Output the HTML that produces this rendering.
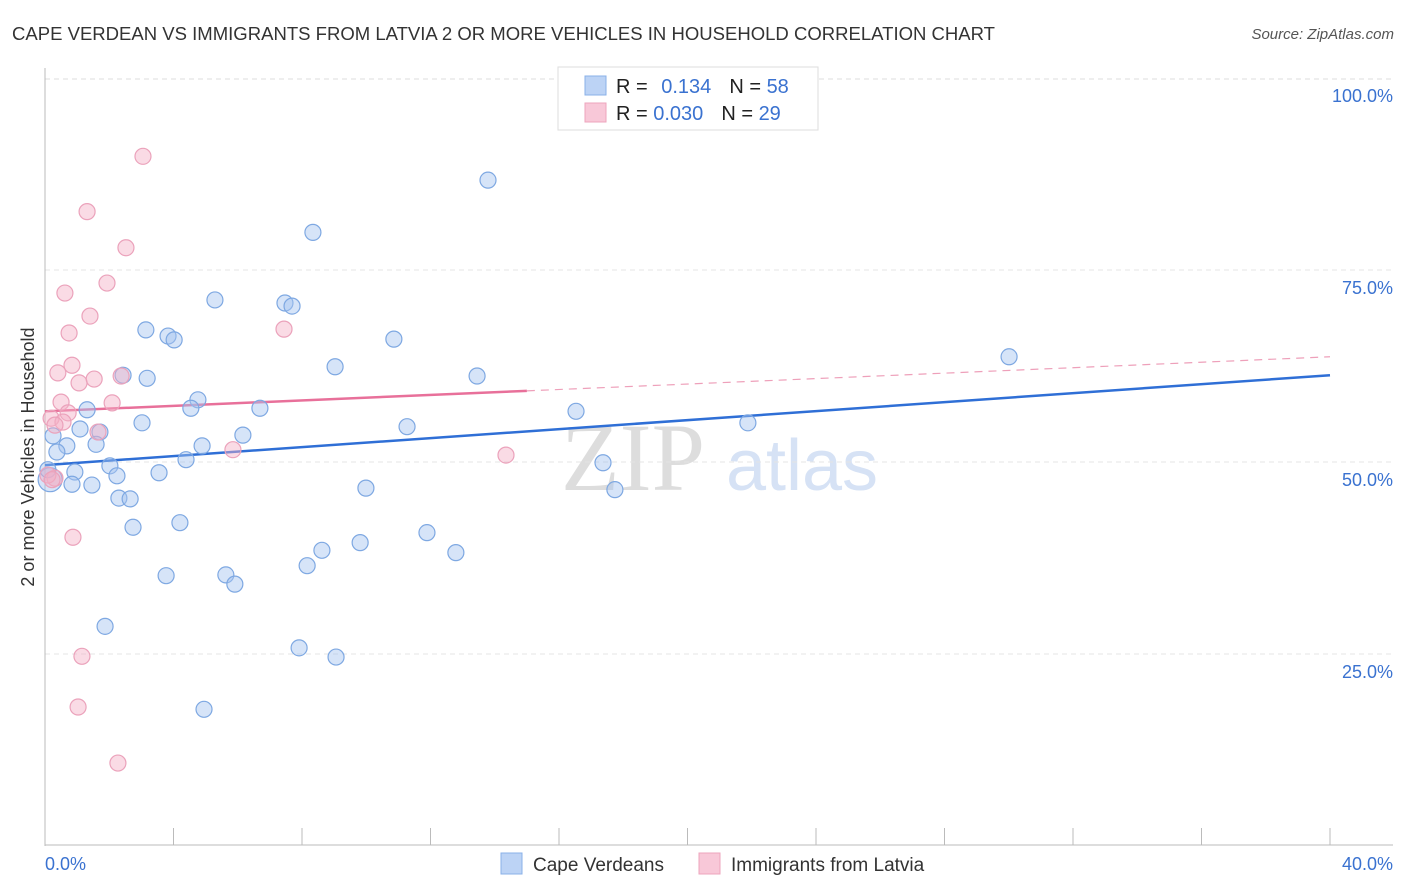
<!DOCTYPE html>
<html><head><meta charset="utf-8"><style>
body{margin:0;width:1406px;height:892px;background:#fff;font-family:"Liberation Sans",sans-serif;overflow:hidden}
svg{position:absolute;left:0;top:0}
</style></head><body>
<svg id="chart" width="1406" height="892">
<text x="12" y="40" font-size="18" fill="#333" textLength="983" lengthAdjust="spacingAndGlyphs">CAPE VERDEAN VS IMMIGRANTS FROM LATVIA 2 OR MORE VEHICLES IN HOUSEHOLD CORRELATION CHART</text>
<text x="1394" y="39" font-size="15" fill="#555" font-style="italic" text-anchor="end">Source: ZipAtlas.com</text>
<text transform="translate(34,457) rotate(-90)" font-size="18" fill="#333" text-anchor="middle">2 or more Vehicles in Household</text>
<g>
<text x="633" y="490" font-size="96" fill="#ddd" font-family="Liberation Serif,serif" text-anchor="middle">ZIP</text>
<text x="802" y="490" font-size="72" fill="#d6e2f5" text-anchor="middle">atlas</text>
</g>
<g id="grid"></g><g id="axes"></g><g id="lines"></g><g id="pts"></g>
<g>
<rect x="558" y="67" width="260" height="63" fill="#fff" stroke="#ddd"/>
<rect x="585" y="76" width="21" height="19" fill="#bcd3f5" stroke="#8ab0e8"/>
<rect x="585" y="103" width="21" height="19" fill="#f8c8d8" stroke="#eea5bd"/>
<text x="616" y="93" font-size="20" fill="#222">R = <tspan fill="#3a72d0" dx="8">0.134</tspan><tspan fill="#222" dx="18">N = </tspan><tspan fill="#3a72d0">58</tspan></text>
<text x="616" y="120" font-size="20" fill="#222">R = <tspan fill="#3a72d0">0.030</tspan><tspan fill="#222" dx="18">N = </tspan><tspan fill="#3a72d0">29</tspan></text>
</g>
<g>
<rect x="501" y="853" width="21" height="21" fill="#bcd3f5" stroke="#8ab0e8"/>
<text x="533" y="871" font-size="19" fill="#333">Cape Verdeans</text>
<rect x="699" y="853" width="21" height="21" fill="#f8c8d8" stroke="#eea5bd"/>
<text x="731" y="871" font-size="19" fill="#333">Immigrants from Latvia</text>
</g>
</svg>
<script>
const yTicks=[25,50,75,100];
const yTickLabels=["25.0%","50.0%","75.0%","100.0%"];
const blueX=[13.79,8.34,5.29,7.47,7.69,3.14,3.83,4.02,10.86,9.03,13.45,2.43,3.18,4.76,4.54,6.69,1.31,3.02,1.09,1.71,11.27,16.53,21.88,30.01,6.16,4.89,1.59,0.68,0.37,0.25,4.39,2.02,3.55,0.93,2.24,17.37,17.74,9.99,1.46,0.84,2.30,2.65,4.20,2.74,11.89,9.81,12.79,8.62,8.16,3.77,5.63,5.91,1.87,7.91,9.06,4.95,0.16,0.09];
const blueY=[86.7,79.9,71.1,70.7,70.3,67.2,66.4,65.9,66.0,62.4,61.2,61.3,60.9,58.1,57.0,57.0,56.8,55.1,54.3,53.9,54.6,56.6,55.1,63.7,53.5,52.1,52.3,52.1,51.3,53.4,50.3,49.5,48.6,48.7,48.2,49.9,46.4,46.6,47.0,47.1,45.3,45.2,42.1,41.5,40.8,39.5,38.2,38.5,36.5,35.2,35.3,34.1,28.6,25.8,24.6,17.8,47.7,49.0];
const pinkX=[3.05,1.31,2.52,1.93,0.62,1.40,0.75,7.44,0.84,0.40,1.53,1.06,2.37,0.50,2.09,0.72,0.19,0.56,0.31,1.65,5.85,14.35,0.31,0.87,1.15,1.03,2.27,0.09,0.22];
const pinkY=[89.8,82.6,77.9,73.3,72.0,69.0,66.8,67.3,62.6,61.6,60.8,60.3,61.2,57.8,57.7,56.4,55.7,55.2,54.8,53.9,51.6,50.9,47.9,40.2,24.7,18.1,10.8,48.3,47.7];
const blueTrend=[49.6,61.3];
const pinkTrend=[56.6,63.7];
const pinkSolidEnd=15;
const X=v=>45+v*32.125, Y=v=>846-v*7.68;
const NS="http://www.w3.org/2000/svg";
function mk(p,t,a){const e=document.createElementNS(NS,t);for(const k in a)e.setAttribute(k,a[k]);p.appendChild(e);return e;}
const grid=document.getElementById('grid');
mk(grid,'line',{x1:45,x2:1393,y1:79,y2:79,stroke:'#ddd','stroke-dasharray':'5,4'});
yTicks.forEach((t,i)=>{
 if(t<100){const l=mk(grid,'line',{x1:45,x2:1393,y1:Y(t),y2:Y(t),stroke:'#e4e4e4','stroke-dasharray':'5,4'});
 
 }
 const tx=mk(grid,'text',{x:1393,y:Y(t)+24,'font-size':18,fill:'#3a72d0','text-anchor':'end'});
 tx.textContent=yTickLabels[i];
 
 
});
const ax=document.getElementById('axes');
mk(ax,'line',{x1:45,x2:45,y1:68,y2:846,stroke:'#bbb'});
mk(ax,'line',{x1:45,x2:1393,y1:845,y2:845,stroke:'#bbb'});
for(let i=0;i<=10;i++){mk(ax,'line',{x1:X(i*4),x2:X(i*4),y1:828,y2:845,stroke:'#bbb'});}
const xl=mk(ax,'text',{x:45,y:870,'font-size':18,fill:'#3a72d0'});xl.textContent='0.0%';


const xr=mk(ax,'text',{x:1393,y:870,'font-size':18,fill:'#3a72d0','text-anchor':'end'});xr.textContent='40.0%';


const ln=document.getElementById('lines');
const bl=mk(ln,'line',{x1:X(0),y1:Y(blueTrend[0]),x2:X(40),y2:Y(blueTrend[1]),stroke:'#2f6fd6','stroke-width':2.5});


const pm=pinkTrend[0]+(pinkTrend[1]-pinkTrend[0])*pinkSolidEnd/40;
const pl=mk(ln,'line',{x1:X(0),y1:Y(pinkTrend[0]),x2:X(pinkSolidEnd),y2:Y(pm),stroke:'#e8709a','stroke-width':2.5});


const pd=mk(ln,'line',{x1:X(pinkSolidEnd),y1:Y(pm),x2:X(40),y2:Y(pinkTrend[1]),stroke:'#eea0ba','stroke-width':1.2,'stroke-dasharray':'8,6'});


const pts=document.getElementById('pts');
blueX.forEach((x,i)=>{const c=mk(pts,'circle',{cx:X(x),cy:Y(blueY[i]),r:(i==56?12:8),fill:'rgba(165,195,240,0.45)',stroke:'#7ea8e2','stroke-width':1.2});

});
pinkX.forEach((x,i)=>{const c=mk(pts,'circle',{cx:X(x),cy:Y(pinkY[i]),r:8,fill:'rgba(245,175,198,0.45)',stroke:'#eba2bb','stroke-width':1.2});

});
</script>
</body></html>
